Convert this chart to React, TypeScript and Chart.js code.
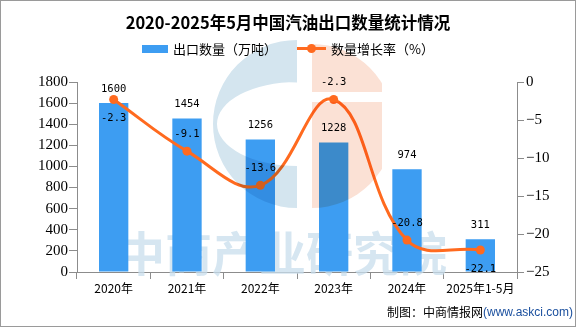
import React, { useEffect, useRef } from "react";
import { Chart, registerables } from "chart.js";

Chart.register(...registerables);

const categories = ["2020年", "2021年", "2022年", "2023年", "2024年", "2025年1-5月"];
const exportVolume = [1600, 1454, 1256, 1228, 974, 311];
const growthRate = [-2.3, -9.1, -13.6, -2.3, -20.8, -22.1];
const rateLabelSide = ["below", "above", "above", "above", "above", "below"];
const leftTicks = { min: 0, max: 1800, step: 200 };
const rightTicks = { min: -25, max: 0, step: 5 };

const TITLE = "2020-2025年5月中国汽油出口数量统计情况";
const LEGEND_BAR = "出口数量（万吨）";
const LEGEND_LINE = "数量增长率（%）";
const CREDIT_A = "制图：中商情报网";
const CREDIT_B = "(www.askci.com)";
const WATERMARK = "中商产业研究院";

const BAR_COLOR = "#3d9df2";
const LINE_COLOR = "#ff6a1f";
const AXIS_COLOR = "#8c8c8c";
const CJK = '"Noto Sans CJK SC", "Noto Sans", sans-serif';

const decorPlugin = {
  id: "decor",
  beforeDatasetsDraw(chart: any) {
    const ctx = chart.ctx;
    ctx.save();
    ctx.font = `bold 47px ${CJK}`;
    ctx.fillStyle = "rgba(200,222,236,0.75)";
    ctx.textAlign = "left";
    ctx.textBaseline = "middle";
    ctx.fillText(WATERMARK, 118, 253);
    ctx.restore();
  },
  afterDatasetsDraw(chart: any) {
    const ctx = chart.ctx;
    // logo watermark
    ctx.save();
    ctx.globalCompositeOperation = "multiply";
    ctx.beginPath();
    ctx.moveTo(297, 124 + 84);
    ctx.arc(297, 124, 84, Math.PI / 2, Math.PI * 1.5, false);
    ctx.closePath();
    ctx.moveTo(297, 124 + 42);
    ctx.ellipse(297, 124, 80, 42, 0, Math.PI / 2, Math.PI * 1.5, false);
    ctx.closePath();
    ctx.fillStyle = "#d4e5ef";
    ctx.fill("evenodd");

    ctx.save();
    ctx.beginPath();
    ctx.rect(312, 30, 70, 92 - 30);
    ctx.rect(312, 102, 70, 120);
    ctx.clip();
    ctx.beginPath();
    ctx.moveTo(312, 124 - 80);
    ctx.arc(312, 126, 82, -Math.PI / 2, Math.PI / 2, false);
    ctx.closePath();
    ctx.fillStyle = "#fbe1d5";
    ctx.fill();
    ctx.restore();
    ctx.restore();

    // data labels
    ctx.save();
    ctx.font = '10.5px "DejaVu Sans Mono", monospace';
    ctx.fillStyle = "#000";
    ctx.textAlign = "center";
    ctx.textBaseline = "middle";
    const barMeta = chart.getDatasetMeta(0);
    barMeta.data.forEach((el: any, i: number) => {
      ctx.fillText(String(exportVolume[i]), el.x, el.y - 14);
    });
    const lineMeta = chart.getDatasetMeta(1);
    lineMeta.data.forEach((el: any, i: number) => {
      const dy = rateLabelSide[i] === "above" ? -17 : 19;
      ctx.fillText(String(growthRate[i]), el.x, el.y + dy);
    });
    ctx.restore();
  },
  afterDraw(chart: any) {
    const ctx = chart.ctx;
    const W = chart.width;
    const H = chart.height;
    ctx.save();
    // title
    ctx.font = `bold 16.5px ${CJK}`;
    ctx.fillStyle = "#000";
    ctx.textAlign = "center";
    ctx.textBaseline = "middle";
    ctx.fillText(TITLE, W / 2, 23);

    // legend
    ctx.font = `13px ${CJK}`;
    ctx.textAlign = "left";
    ctx.fillStyle = BAR_COLOR;
    ctx.fillRect(142, 45, 26, 8);
    ctx.fillStyle = "#000";
    ctx.fillText(LEGEND_BAR, 173, 49.5);

    ctx.strokeStyle = LINE_COLOR;
    ctx.lineWidth = 3;
    ctx.beginPath();
    ctx.moveTo(297, 48.5);
    ctx.lineTo(326, 48.5);
    ctx.stroke();
    ctx.fillStyle = LINE_COLOR;
    ctx.beginPath();
    ctx.arc(311.5, 48.5, 4.5, 0, Math.PI * 2);
    ctx.fill();
    ctx.fillStyle = "#000";
    ctx.fillText(LEGEND_LINE, 331, 49.5);

    // credit
    ctx.font = `12px ${CJK}`;
    ctx.textAlign = "left";
    ctx.fillStyle = "#000";
    ctx.fillText(CREDIT_A, 387, 312.5);
    const wA = ctx.measureText(CREDIT_A).width;
    ctx.font = '12px "Liberation Sans", Arial, sans-serif';
    ctx.fillStyle = "#1a4f9e";
    ctx.fillText(CREDIT_B, 387 + wA, 312.5);

    // frame
    ctx.strokeStyle = "#9a9a9a";
    ctx.lineWidth = 1;
    ctx.strokeRect(0.5, 0.5, W - 1, H - 1);
    ctx.restore();
  },
};

export default function App() {
  const canvasRef = useRef<HTMLCanvasElement | null>(null);

  useEffect(() => {
    document.body.style.margin = "0";
    const canvas = canvasRef.current;
    if (!canvas) return;
    const chart = new Chart(canvas, {
      type: "bar",
      data: {
        labels: categories,
        datasets: [
          {
            type: "bar",
            label: LEGEND_BAR,
            data: exportVolume,
            yAxisID: "y",
            backgroundColor: BAR_COLOR,
            categoryPercentage: 1,
            barPercentage: 0.4,
            order: 2,
          },
          {
            type: "line",
            label: LEGEND_LINE,
            data: growthRate,
            yAxisID: "y1",
            borderColor: LINE_COLOR,
            backgroundColor: LINE_COLOR,
            borderWidth: 3,
            tension: 0.4,
            pointRadius: 4.5,
            pointBackgroundColor: LINE_COLOR,
            pointBorderWidth: 0,
            order: 1,
          } as any,
        ],
      },
      options: {
        responsive: false,
        animation: false,
        devicePixelRatio: 1,
        layout: { padding: { top: 82, left: 0, right: 0, bottom: 0 } },
        plugins: {
          legend: { display: false },
          title: { display: false },
          tooltip: { enabled: false },
        },
        scales: {
          x: {
            offset: true,
            grid: {
              display: true,
              drawOnChartArea: false,
              drawTicks: true,
              tickLength: 7,
              color: AXIS_COLOR,
              offset: true,
            },
            border: { color: AXIS_COLOR },
            ticks: {
              color: "#000",
              padding: 2,
              font: { family: CJK, size: 12 },
              maxRotation: 0,
              autoSkip: false,
            },
            afterFit(scale: any) {
              scale.height = 55;
            },
          },
          y: {
            position: "left",
            min: leftTicks.min,
            max: leftTicks.max,
            ticks: {
              stepSize: leftTicks.step,
              color: "#000",
              padding: 1,
              font: { family: '"Liberation Serif", serif', size: 15 },
              callback: (v: any) => String(v),
            },
            grid: {
              display: true,
              drawOnChartArea: false,
              drawTicks: true,
              tickLength: 8,
              color: AXIS_COLOR,
            },
            border: { color: AXIS_COLOR },
            afterFit(scale: any) {
              scale.width = 77;
            },
          },
          y1: {
            position: "right",
            min: rightTicks.min,
            max: rightTicks.max,
            ticks: {
              stepSize: rightTicks.step,
              color: "#000",
              padding: 2,
              font: { family: '"Liberation Serif", serif', size: 15 },
              callback: (v: any) => String(v).replace("-", "\u2212"),
            },
            grid: {
              display: true,
              drawOnChartArea: false,
              drawTicks: true,
              tickLength: 7,
              color: AXIS_COLOR,
            },
            border: { color: AXIS_COLOR },
            afterFit(scale: any) {
              scale.width = 59;
            },
          },
        },
      },
      plugins: [decorPlugin],
    });
    return () => chart.destroy();
  }, []);

  return (
    <div style={{ width: 576, height: 327 }}>
      <canvas ref={canvasRef} width={576} height={327} style={{ width: 576, height: 327, display: "block" }} />
    </div>
  );
}
